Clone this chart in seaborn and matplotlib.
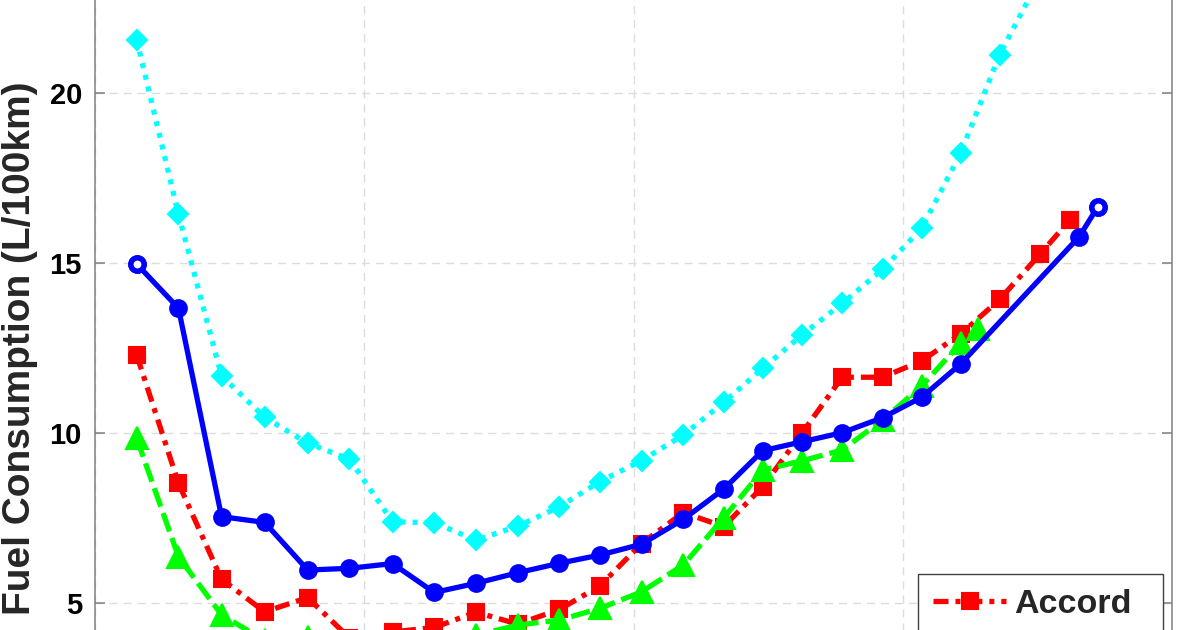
import matplotlib
matplotlib.use("Agg")
import matplotlib.pyplot as plt
import seaborn as sns

# speed (mph) and fuel consumption (L/100km)
accord_mph = [3.1, 6.2, 9.4, 12.6, 15.8, 18.9, 22.1, 25.2, 28.3, 31.4, 34.5, 37.5,
              40.6, 43.7, 46.7, 49.6, 52.5, 55.5, 58.5, 61.4, 64.3, 67.2, 70.2, 72.4]
accord_fuel = [12.29, 8.52, 5.70, 4.74, 5.16, 3.97, 4.15, 4.28, 4.73, 4.38, 4.81, 5.50,
               6.75, 7.66, 7.25, 8.42, 9.99, 11.64, 11.64, 12.12, 12.91, 13.93, 15.26, 16.26]

pilot_mph = [3.1, 6.2, 9.4, 12.6, 15.8, 18.9, 22.1, 25.2, 28.3, 31.4, 34.5, 37.5,
             40.6, 43.7, 46.7, 49.6, 52.5, 55.5, 58.5, 61.4, 64.3, 73.1, 74.5]
pilot_fuel = [14.97, 13.67, 7.54, 7.37, 5.97, 6.02, 6.16, 5.31, 5.58, 5.89, 6.17, 6.41,
              6.73, 7.46, 8.35, 9.48, 9.74, 10.01, 10.45, 11.05, 12.03, 15.77, 16.66]

insight_mph = [3.1, 6.2, 9.4, 12.6, 15.8, 18.9, 22.1, 25.2, 28.3, 31.4, 34.5, 37.5,
               40.6, 43.7, 46.7, 49.6, 52.5, 55.5, 58.5, 61.4, 64.3, 65.6]
insight_fuel = [9.84, 6.36, 4.65, 3.90, 4.00, 3.75, 3.70, 3.85, 4.05, 4.35, 4.50, 4.84,
                5.33, 6.12, 7.50, 8.91, 9.18, 9.50, 10.38, 11.38, 12.64, 13.05]

odyssey_mph = [3.1, 6.2, 9.4, 12.6, 15.8, 18.9, 22.1, 25.2, 28.3, 31.4, 34.5, 37.5,
               40.6, 43.7, 46.7, 49.6, 52.5, 55.5, 58.5, 61.4, 64.3, 67.2, 70.2]
odyssey_fuel = [21.56, 16.43, 11.68, 10.46, 9.70, 9.23, 7.39, 7.36, 6.85, 7.26, 7.83, 8.57,
                9.19, 9.94, 10.90, 11.90, 12.88, 13.81, 14.81, 16.02, 18.23, 21.13, 23.4]

y_ticks = [5, 10, 15, 20]
x_ticks = [0, 20, 40, 60, 80]

sns.set_style("ticks")
plt.rcParams['font.family'] = ['Liberation Sans', 'DejaVu Sans']
plt.rcParams['font.weight'] = 'bold'
plt.rcParams['lines.scale_dashes'] = False

fig = plt.figure(figsize=(12, 6.3), dpi=100)
# the original is a crop of a bigger MATLAB figure, so the axes run off the canvas
ax = fig.add_axes([95 / 1200, (630 - 773) / 630, 1077 / 1200, 850 / 630])

lw = 3.8
sns.lineplot(x=odyssey_mph, y=odyssey_fuel, ax=ax, color=(0, 1, 1), linewidth=lw,
             linestyle=(0, (3.6, 5.0)), marker='D', markersize=10.5, markeredgewidth=1.5,
             markeredgecolor=(0, 1, 1), label='Odyssey', estimator=None, sort=False)
sns.lineplot(x=accord_mph, y=accord_fuel, ax=ax, color=(1, 0, 0), linewidth=lw,
             linestyle=(0, (10.8, 5.0, 3.6, 5.0)), marker='s', markersize=11.5,
             markeredgewidth=1.5, markeredgecolor=(1, 0, 0), label='Accord',
             estimator=None, sort=False)
sns.lineplot(x=insight_mph, y=insight_fuel, ax=ax, color=(0, 1, 0), linewidth=lw,
             linestyle=(0, (14.0, 5.0)), marker='^', markersize=16, markeredgewidth=1.5,
             markeredgecolor=(0, 1, 0), label='Insight', estimator=None, sort=False)
sns.lineplot(x=pilot_mph, y=pilot_fuel, ax=ax, color=(0, 0, 1), linewidth=lw,
             linestyle='-', marker='o', markersize=12, markeredgewidth=1.5,
             markeredgecolor=(0, 0, 1), label='Pilot', estimator=None, sort=False)
# open circles at both ends of the blue curve
ax.plot([pilot_mph[0], pilot_mph[-1]], [pilot_fuel[0], pilot_fuel[-1]], linestyle='none',
        marker='o', markersize=9.5, markerfacecolor='white', markeredgecolor=(0, 0, 1),
        markeredgewidth=3.8, zorder=5)

if ax.get_legend() is not None:
    ax.get_legend().remove()

ax.set_xlim(0, 80)
ax.set_ylim(0, 25)
ax.set_xticks(x_ticks)
ax.set_yticks(y_ticks)
ax.grid(True, color='#dcdcdc', linewidth=1.0, linestyle=(0, (5.8, 4.3)))
ax.set_axisbelow(True)
for s in ax.spines.values():
    s.set_color('#808080')
    s.set_linewidth(1.1)
ax.tick_params(direction='in', length=7.2, width=1.1, color='#808080', labelsize=21,
               pad=9.4, right=True, top=True, labelcolor='black', labelbottom=False)
for lbl in ax.get_yticklabels():
    lbl.set_fontweight('bold')

ax.set_ylabel('Fuel Consumption (L/100km)', fontsize=28, fontweight='bold')
ax.yaxis.set_label_coords(-0.053, 0.5)

# only the first legend entry is inside the cropped picture
handles, labels = ax.get_legend_handles_labels()
hmap = dict(zip(labels, handles))
top = (630 - 574) / 630
leg = fig.legend([hmap['Accord']], ['Accord'], loc='upper left', mode='expand',
                 bbox_to_anchor=(918 / 1200, top - 0.2, 245 / 1200, 0.2), borderaxespad=0,
                 frameon=True, fancybox=False, framealpha=1, edgecolor='#404040',
                 prop={'weight': 'bold', 'size': 24.5}, borderpad=0.45,
                 handlelength=2.15, handletextpad=0.24)
leg.get_frame().set_linewidth(1.0)

fig.savefig('out.png', dpi=100)
